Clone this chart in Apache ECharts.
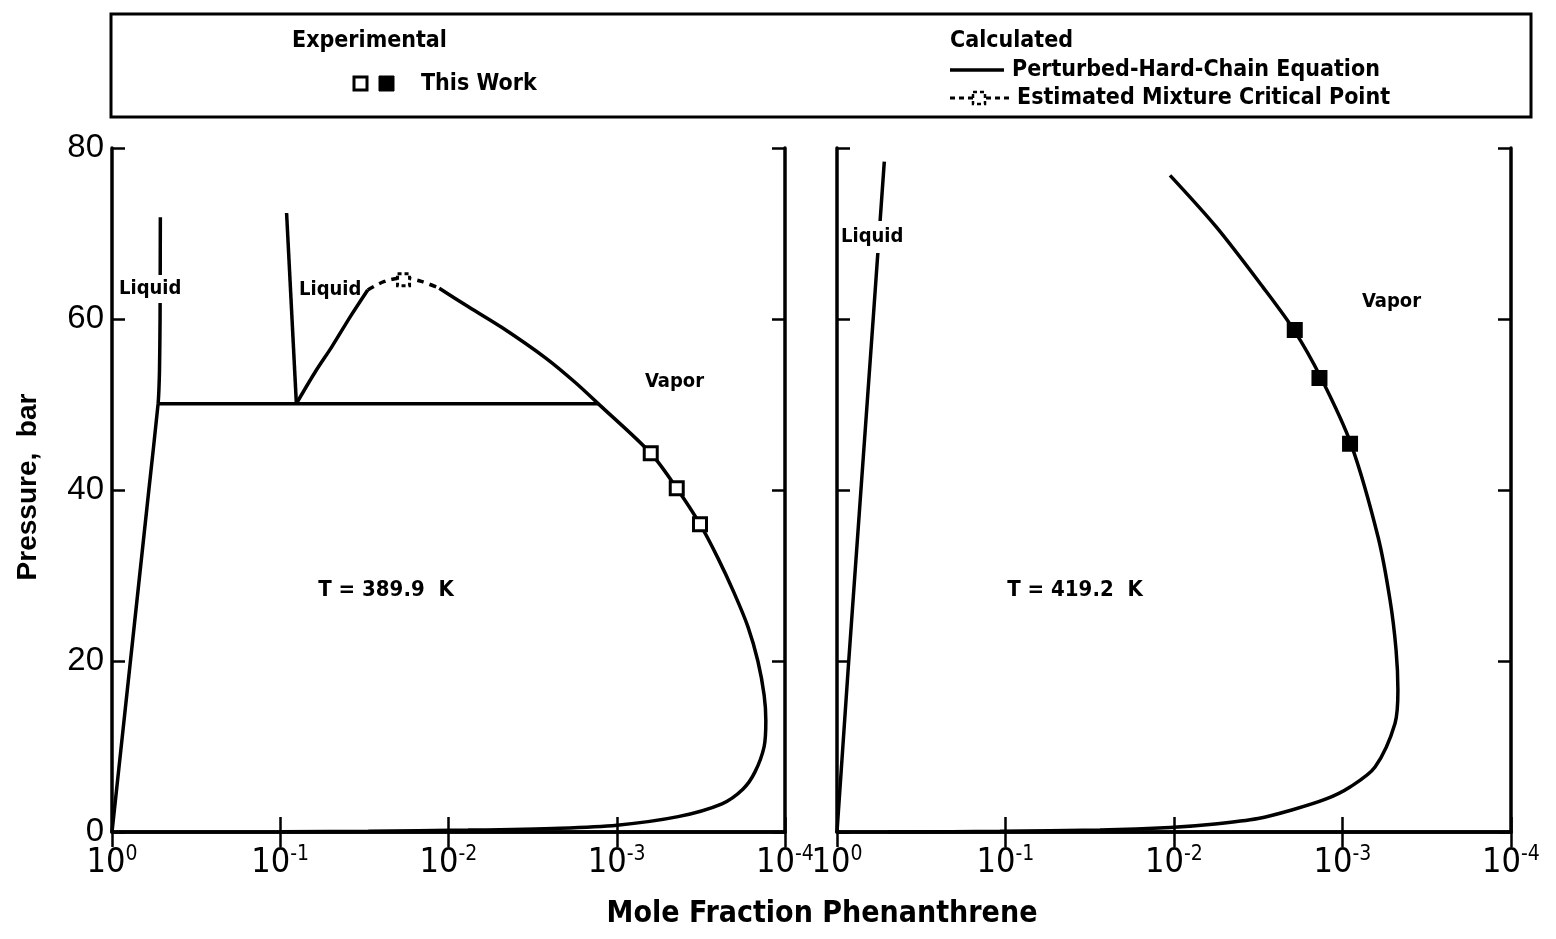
<!DOCTYPE html>
<html>
<head>
<meta charset="utf-8">
<script src="https://cdn.jsdelivr.net/npm/echarts@6/dist/echarts.min.js"></script>
<style>
  html, body { margin: 0; padding: 0; background: #fff; }
  #root { width: 1556px; height: 939px; }
</style>
</head>
<body>
<div id="root"></div>
<script>
// T = 389.9 K panel
const liqA_x = [1.0, 0.777, 0.604, 0.532, 0.522, 0.518, 0.516];
const liqA_p = [0, 20, 40, 50.1, 54, 60, 71.9];
const threePhase_x = [0.528, 1.29e-3];
const threePhase_p = [50.1, 50.1];
const liqB_x = [0.0917, 0.0802];
const liqB_p = [72.4, 50.1];
const vapRise_x = [0.0802, 0.0620, 0.0492, 0.0380, 0.0302];
const vapRise_p = [50.1, 53.8, 56.8, 60.4, 63.4];
const critA_x = [0.0302, 0.0240, 0.0185, 0.0145, 0.01135];
const critA_p = [63.4, 64.4, 64.8, 64.4, 63.6];
const vapA_x = [0.01135, 7.87e-3, 4.81e-3, 2.63e-3, 1.77e-3, 1.29e-3, 6.28e-4, 4.40e-4, 3.20e-4, 2.50e-4, 2.01e-4, 1.66e-4, 1.45e-4, 1.33e-4, 1.30e-4, 1.33e-4, 1.51e-4, 1.78e-4, 2.37e-4, 4.32e-4, 9.97e-4, 2.17e-3, 7.66e-3, 0.03, 0.1];
const vapA_p = [63.6, 61.6, 59.0, 55.4, 52.6, 50.1, 44.3, 40.2, 36.0, 32.0, 28.0, 24.0, 20.0, 16.0, 13.0, 10.0, 7.0, 5.0, 3.3, 1.8, 0.8, 0.45, 0.22, 0.08, 0.02];
const expA_x = [6.28e-4, 4.40e-4, 3.20e-4];
const expA_p = [44.3, 40.2, 36.0];
const critPt_x = [0.0185];
const critPt_p = [64.6];

// T = 419.2 K panel
const liqC_x = [1.0, 0.852, 0.721, 0.610, 0.524];
const liqC_p = [0, 20, 40, 60, 78.4];
const vapC_x = [0.01056, 5.63e-3, 2.96e-3, 1.94e-3, 1.34e-3, 8.91e-4, 6.15e-4, 5.22e-4, 4.81e-4, 4.69e-4, 4.88e-4, 6.41e-4, 9.02e-4, 1.25e-3, 2.0e-3, 3.17e-3, 5.71e-3, 0.01056, 0.0275, 0.108, 0.5];
const vapC_p = [76.8, 70.8, 63.7, 58.7, 53.1, 45.4, 34.5, 27.1, 21.3, 16.6, 12.7, 7.6, 5.26, 3.86, 2.57, 1.58, 0.94, 0.53, 0.23, 0.08, 0.01];
const expC_x = [1.92e-3, 1.37e-3, 9.02e-4];
const expC_p = [58.7, 53.1, 45.4];

const yTicks = [0, 20, 40, 60, 80];

const LBL = 'DejaVu Sans Condensed';
const NUM = 'Liberation Sans';

const zip = (xs, ps) => xs.map((x, i) => [x, ps[i]]);

const chart = echarts.init(document.getElementById('root'));

const grids = [
    { left: 112, top: 148, width: 673, height: 684 },
    { left: 837, top: 148, width: 674, height: 684 }
];

function xAx(gi, pos, withLabels) {
    return {
        type: 'log', logBase: 10, min: 1e-4, max: 1, inverse: true,
        gridIndex: gi, position: pos,
        axisLine: { show: true, lineStyle: { color: '#000', width: 3.5 } },
        axisTick: { show: true, inside: true, length: 15, lineStyle: { color: '#000', width: 2.5 } },
        splitLine: { show: false },
        axisLabel: withLabels ? {
            show: true, margin: 12,
            formatter: v => '{a|10}{b|' + Math.round(Math.log10(v)) + '}',
            rich: {
                a: { fontFamily: LBL, fontSize: 34, lineHeight: 38, color: '#000' },
                b: { fontFamily: LBL, fontSize: 21, lineHeight: 22, verticalAlign: 'top', color: '#000' }
            }
        } : { show: false }
    };
}

function yAx(gi, pos, withLabels) {
    return {
        type: 'value', min: 0, max: 80, interval: 20,
        gridIndex: gi, position: pos,
        axisLine: { show: true, lineStyle: { color: '#000', width: 3.5 } },
        axisTick: { show: true, inside: true, length: 13, lineStyle: { color: '#000', width: 2.5 } },
        splitLine: { show: false },
        axisLabel: withLabels ? {
            show: true, margin: 8, fontFamily: NUM, fontSize: 33, color: '#000',
            formatter: v => yTicks.indexOf(v) >= 0 ? String(v) : ''
        } : { show: false }
    };
}

function line(xs, ps, xi, yi, dashed, smooth) {
    return {
        type: 'line', xAxisIndex: xi, yAxisIndex: yi,
        data: zip(xs, ps), showSymbol: false, smooth: smooth === undefined ? 0.3 : smooth,
        lineStyle: { color: '#000', width: 3.5, type: dashed ? [7, 6] : 'solid' },
        z: 3, silent: true
    };
}

function marks(xs, ps, xi, yi, fill, dashed, size) {
    return {
        type: 'scatter', xAxisIndex: xi, yAxisIndex: yi,
        data: zip(xs, ps), symbol: 'rect', symbolSize: size,
        itemStyle: { color: fill, borderColor: '#000', borderWidth: 3, borderType: dashed ? [4, 3] : 'solid', opacity: 1 },
        z: 5, silent: true
    };
}

const txt = (text, x, y, opts) => Object.assign({
    type: 'text', x: x, y: y, z: 100,
    style: Object.assign({ text: text, fontFamily: LBL, fontWeight: 'bold', fontSize: 20, fill: '#000',
        textAlign: 'left', textVerticalAlign: 'middle' }, opts || {})
});

const option = {
    backgroundColor: '#fff',
    animation: false,
    grid: grids,
    xAxis: [xAx(0, 'bottom', true), xAx(0, 'top', false), xAx(1, 'bottom', true), xAx(1, 'top', false)],
    yAxis: [yAx(0, 'left', true), yAx(0, 'right', false), yAx(1, 'left', false), yAx(1, 'right', false)],
    series: [
        line(liqA_x, liqA_p, 0, 0, false, 0.15),
        line(threePhase_x, threePhase_p, 0, 0, false, false),
        line(liqB_x, liqB_p, 0, 0, false, false),
        line(vapRise_x, vapRise_p, 0, 0),
        line(critA_x, critA_p, 0, 0, true),
        line(vapA_x, vapA_p, 0, 0),
        marks(critPt_x, critPt_p, 0, 0, '#fff', true, 12),
        marks(expA_x, expA_p, 0, 0, '#fff', false, 13),
        line(liqC_x, liqC_p, 2, 2, false, false),
        line(vapC_x, vapC_p, 2, 2),
        marks(expC_x, expC_p, 2, 2, '#000', false, 13)
    ],
    graphic: [
        // legend box
        { type: 'rect', z: 100, shape: { x: 111, y: 14, width: 1420, height: 103 },
          style: { fill: 'none', stroke: '#000', lineWidth: 3 } },
        txt('Experimental', 292, 41, { fontSize: 23 }),
        { type: 'rect', z: 100, shape: { x: 354, y: 77, width: 13, height: 13 },
          style: { fill: '#fff', stroke: '#000', lineWidth: 3 } },
        { type: 'rect', z: 100, shape: { x: 379, y: 76, width: 15, height: 15 },
          style: { fill: '#000', stroke: '#000', lineWidth: 1 } },
        txt('This Work', 421, 84, { fontSize: 23 }),
        txt('Calculated', 950, 41, { fontSize: 23 }),
        { type: 'line', z: 100, shape: { x1: 950, y1: 70, x2: 1004, y2: 70 },
          style: { stroke: '#000', lineWidth: 3.5 } },
        txt('Perturbed-Hard-Chain Equation', 1012, 70, { fontSize: 23 }),
        { type: 'line', z: 100, shape: { x1: 950, y1: 98, x2: 1010, y2: 98 },
          style: { stroke: '#000', lineWidth: 3, lineDash: [5, 4] } },
        { type: 'rect', z: 101, shape: { x: 973, y: 92, width: 12, height: 12 },
          style: { fill: '#fff', stroke: '#000', lineWidth: 2.5, lineDash: [4, 3] } },
        txt('Estimated Mixture Critical Point', 1017, 98, { fontSize: 23 }),

        // panel annotations
        txt('Liquid', 118, 289, { backgroundColor: '#fff', padding: [4, 1] }),
        txt('Liquid', 299, 290),
        txt('Vapor', 645, 382),
        txt('T = 389.9  K', 386, 590, { textAlign: 'center', fontSize: 22 }),
        txt('Liquid', 840, 237, { backgroundColor: '#fff', padding: [6, 1] }),
        txt('Vapor', 1362, 302),
        txt('T = 419.2  K', 1075, 590, { textAlign: 'center', fontSize: 22 }),

        // axis titles
        { type: 'text', z: 100, x: 28, y: 487, rotation: Math.PI / 2,
          style: { text: 'Pressure,  bar', fontFamily: NUM, fontWeight: 'bold', fontSize: 28, fill: '#000',
                   textAlign: 'center', textVerticalAlign: 'middle' } },
        { type: 'text', z: 100, x: 822, y: 914,
          style: { text: 'Mole Fraction Phenanthrene', fontFamily: LBL, fontWeight: 'bold', fontSize: 30, fill: '#000',
                   textAlign: 'center', textVerticalAlign: 'middle' } }
    ]
};

chart.setOption(option);
</script>
</body>
</html>
